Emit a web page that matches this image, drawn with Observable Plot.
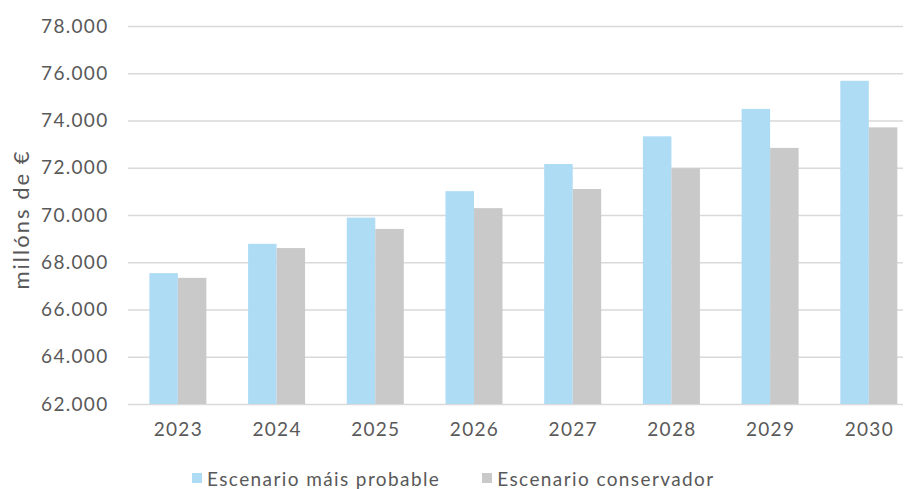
<!DOCTYPE html>
<html>
<head>
<meta charset="utf-8">
<script src="https://cdn.jsdelivr.net/npm/d3@7"></script>
<script src="https://cdn.jsdelivr.net/npm/@observablehq/plot@0.6"></script>
<style>
  body { margin: 0; background: #fff; font-family: Lato, "Noto Sans", sans-serif; }
  #chart { width: 905px; }
  svg text { letter-spacing: 1.3px; }
  svg .ylabel text { letter-spacing: 2px; }
  .legend { display: flex; align-items: center; font-size: 19px; letter-spacing: 1.4px; color: #595959; margin-left: 192px; height: 34px; margin-top: 6px; }
  .legend .item { display: flex; align-items: center; margin-right: 42px; }
  .legend .sw { width: 10px; height: 10px; margin-right: 5px; }
</style>
</head>
<body>
<div id="chart"></div>
<script>
const years = ["2023", "2024", "2025", "2026", "2027", "2028", "2029", "2030"];
const probable = [67540, 68780, 69890, 71010, 72160, 73330, 74490, 75680];
const conservador = [67340, 68600, 69410, 70290, 71100, 71980, 72840, 73710];
const seriesNames = ["Escenario máis probable", "Escenario conservador"];
const seriesColors = ["#AEDCF5", "#C9C9C9"];
const yTicks = [62000, 64000, 66000, 68000, 70000, 72000, 74000, 76000, 78000];
const yLabel = "millóns de €";

const locale = d3.formatLocale({decimal: ",", thousands: ".", grouping: [3], currency: ["", " €"]});
const fmt = locale.format(",.0f");

const dataA = years.map((year, i) => ({year, value: probable[i]}));
const dataB = years.map((year, i) => ({year, value: conservador[i]}));

const plot = Plot.plot({
  width: 905,
  height: 455,
  marginLeft: 128,
  marginRight: 2,
  marginTop: 26,
  marginBottom: 51,
  style: {fontFamily: "Lato, 'Noto Sans', sans-serif", fontSize: "19px", color: "#595959", background: "#fff"},
  x: {type: "band", domain: years, paddingInner: 0.4225, paddingOuter: 0.137, align: 0.79, round: false},
  y: {domain: [d3.min(yTicks), d3.max(yTicks)]},
  marks: [
    Plot.ruleY(yTicks, {stroke: "#D9D9D9", strokeWidth: 1.5}),
    Plot.barY(dataA, {x: "year", y: "value", fill: seriesColors[0], insetRight: 28.5, clip: true}),
    Plot.barY(dataB, {x: "year", y: "value", fill: seriesColors[1], insetLeft: 28.5, clip: true}),
    Plot.axisY({ticks: yTicks, tickFormat: fmt, tickSize: 0, tickPadding: 20, label: null, fill: "#595959"}),
    Plot.axisX({tickSize: 0, tickPadding: 18, label: null, fill: "#595959"}),
    Plot.text([yLabel], {frameAnchor: "left", dx: -107, dy: 4, rotate: -90, textAnchor: "middle", text: d => d, fill: "#595959", fontSize: 22, className: "ylabel"})
  ]
});

const chart = document.getElementById("chart");
chart.appendChild(plot);

const legend = document.createElement("div");
legend.className = "legend";
seriesNames.forEach((name, i) => {
  const item = document.createElement("div");
  item.className = "item";
  const sw = document.createElement("span");
  sw.className = "sw";
  sw.style.background = seriesColors[i];
  const label = document.createElement("span");
  label.textContent = name;
  item.appendChild(sw);
  item.appendChild(label);
  legend.appendChild(item);
});
chart.appendChild(legend);
</script>
</body>
</html>
